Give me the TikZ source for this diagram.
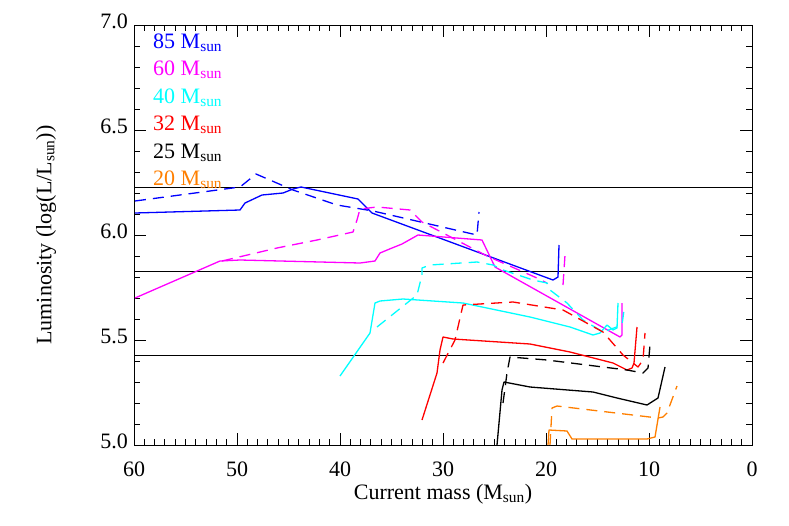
\documentclass[tikz,border=0pt]{standalone}
\usepackage{fontspec}
\setmainfont{Liberation Serif}
\usetikzlibrary{positioning}
\definecolor{orng}{RGB}{255,127,0}
\definecolor{mgnt}{RGB}{255,0,255}
\definecolor{cyn}{RGB}{0,255,255}
\definecolor{blu}{RGB}{0,0,255}
\definecolor{rd}{RGB}{255,0,0}

\begin{document}
\begin{tikzpicture}[
x=1pt, y=-1pt,
track/.style={line width=1.3pt, line join=round},
dsh/.style={track, dash pattern=on 11pt off 7pt},
tck/.style={line width=1pt},
ticklab/.style={font=\rmfamily\fontsize{22}{24}\selectfont, inner sep=2pt},
legend/.style={anchor=west, font=\rmfamily\fontsize{22}{24}\selectfont, inner sep=0pt}
]
\useasboundingbox (0,0) rectangle (789,525);

% frame
\node[draw, line width=1.2pt, minimum width=618pt, minimum height=420pt,
  inner sep=0pt, anchor=north west] (frame) at (134,25) {};

% ticks on mass axis
\foreach \m in {0,...,60}{
  \draw[tck] ({752-10.3*\m},445) -- ({752-10.3*\m},439);
  \draw[tck] ({752-10.3*\m},25) -- ({752-10.3*\m},31);
}
\foreach \m in {0,10,...,60}{
  \draw[tck] ({752-10.3*\m},445) -- ({752-10.3*\m},433);
  \draw[tck] ({752-10.3*\m},25) -- ({752-10.3*\m},37);
  \node[ticklab, below] (xl\m) at ({752-10.3*\m},460) {\m};
}
% ticks on luminosity axis
\foreach \k in {0,...,20}{
  \draw[tck] (134,{445-21*\k}) -- (140,{445-21*\k});
  \draw[tck] (752,{445-21*\k}) -- (746,{445-21*\k});
}
\foreach \l/\k in {5.0/0,5.5/5,6.0/10,6.5/15,7.0/20}{
  \draw[tck] (134,{445-21*\k}) -- (146,{445-21*\k});
  \draw[tck] (752,{445-21*\k}) -- (740,{445-21*\k});
  \node[ticklab, left] (yl\k) at (130,{441-21*\k}) {\l};
}

\node[ticklab, below=3pt of xl30] (xlabel) {Current mass (M\textsubscript{sun})};
\node[ticklab, rotate=90] (ylabel) at (46,235) {Luminosity (log(L/L\textsubscript{sun}))};

% reference levels
\foreach \yy in {187,271,355}
  \draw[line width=0.7pt] (134,\yy) -- (752,\yy);

% 85 Msun
\draw[track, blu] (135,213) -- (240,210) -- (245,203) -- (262,195) -- (283,193)
  -- (293,189) -- (301,187) -- (358,199) -- (372,213) -- (553,280) -- (558,277) -- (559,245);
\draw[dsh, blu] (135,201) -- (240,187) -- (245,183) -- (256,174) -- (293,190)
  -- (337,205) -- (373,211) -- (477,235) -- (479,212);
% 60 Msun
\draw[track, mgnt] (135,298) -- (220,261) -- (240,260) -- (360,263) -- (375,261)
  -- (380,253) -- (392,248) -- (402,244) -- (418,235) -- (482,240) -- (495,267)
  -- (620,337) -- (622,335) -- (622,303);
\draw[dsh, mgnt] (222,261) -- (277,248) -- (317,240) -- (353,232) -- (357,220)
  -- (360,209) -- (377,207) -- (410,210) -- (422,222) -- (487,256) -- (537,278)
  -- (547,283);
\draw[dsh, mgnt] (563,285) -- (565,255);
% 40 Msun
\draw[track, cyn] (340,376) -- (370,333) -- (375,303) -- (380,301) -- (403,299)
  -- (463,303) -- (530,317) -- (570,327) -- (593,335) -- (600,333) -- (607,325)
  -- (613,330) -- (617,328) -- (618,303);
\draw[dsh, cyn] (377,327) -- (417,295) -- (422,275) -- (422,268) -- (430,265)
  -- (477,262) -- (493,265) -- (503,270) -- (533,280) -- (547,283) -- (550,290)
  -- (567,303) -- (583,320) -- (603,332) -- (622,325) -- (624,310);
% 32 Msun
\draw[track, rd] (422,420) -- (437,373) -- (440,350) -- (443,337) -- (453,339)
  -- (530,344) -- (570,352) -- (613,363) -- (627,370) -- (632,368) -- (634,363)
  -- (637,327);
\draw[dsh, rd] (443,363) -- (455,340) -- (460,318) -- (463,305) -- (513,302)
  -- (563,310) -- (603,332) -- (623,355) -- (638,367) -- (643,360) -- (645,333);
% 25 Msun
\draw[track, black] (497,445) -- (502,390) -- (504,382) -- (530,387) -- (593,392)
  -- (617,398) -- (647,405) -- (658,398) -- (665,367);
\draw[dsh, black] (503,403) -- (507,373) -- (510,357) -- (547,360) -- (627,370)
  -- (643,373) -- (648,368) -- (650,345);
% 20 Msun
\draw[track, orng] (548,445) -- (549,430) -- (567,431) -- (572,439) -- (647,439)
  -- (655,437) -- (660,407);
\draw[dsh, orng] (550,445) -- (552,408) -- (557,406) -- (658,418) -- (663,417)
  -- (667,413) -- (677,386);

% legend
\node[legend, blu] (m85) at (153,43) {85 M\textsubscript{sun}};
\node[legend, mgnt] (m60) at (153,70) {60 M\textsubscript{sun}};
\node[legend, cyn] (m40) at (153,98) {40 M\textsubscript{sun}};
\node[legend, rd] (m32) at (153,125) {32 M\textsubscript{sun}};
\node[legend, black] (m25) at (153,153) {25 M\textsubscript{sun}};
\node[legend, orng] (m20) at (153,180) {20 M\textsubscript{sun}};
\end{tikzpicture}
\end{document}
